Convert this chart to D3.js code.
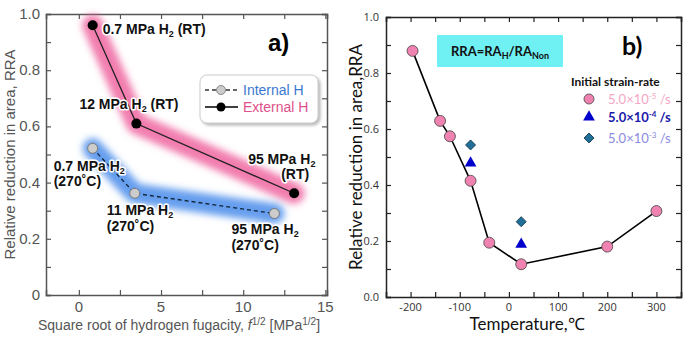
<!DOCTYPE html>
<html>
<head>
<meta charset="utf-8">
<script src="https://cdn.jsdelivr.net/npm/d3@7"></script>
<style>
  body { margin: 0; background: #fff; }
  svg { display: block; }
</style>
</head>
<body>
<script>
// panel a data: sqrt fugacity vs RRA
const extX = [0.84, 3.5, 13.1];
const extY = [0.96, 0.61, 0.362];
const intX = [0.84, 3.4, 11.9];
const intY = [0.522, 0.362, 0.29];
const extLabels = [["0.7 MPa H", "(RT)"], ["12 MPa H", "(RT)"], ["95 MPa H", "(RT)"]];
const intLabels = ["0.7 MPa H", "11 MPa H", "95 MPa H"];

// panel b data: temperature vs RRA
const tempSlow = [-196, -140, -120, -78, -40, 25, 200, 300];
const rraSlow = [0.879, 0.629, 0.574, 0.415, 0.194, 0.117, 0.18, 0.307];
const tempMid = [-78, 25];
const rraMid = [0.478, 0.188];
const tempFast = [-78, 25];
const rraFast = [0.543, 0.269];
const rateLabels = ["-5", "-4", "-3"];

const W = 693, H = 338;
const svg = d3.select("body").append("svg").attr("width", W).attr("height", H);

const defs = svg.append("defs");
defs.append("filter").attr("id", "blur").attr("x", "-20%").attr("y", "-40%").attr("width", "140%").attr("height", "180%")
  .append("feGaussianBlur").attr("stdDeviation", 3.5);
const sh = defs.append("filter").attr("id", "shadow").attr("x", "-10%").attr("y", "-10%").attr("width", "130%").attr("height", "140%");
sh.append("feDropShadow").attr("dx", 2).attr("dy", 2).attr("stdDeviation", 1.5).attr("flood-color", "#888").attr("flood-opacity", 0.6);

// ---------- panel a ----------
const fa = "'Liberation Sans', Arial, sans-serif";
const xa = d3.scaleLinear().domain([-2, 15.1]).range([46, 327]);
const ya = d3.scaleLinear().domain([0, 1]).range([295, 14]);
const ga = svg.append("g");

// axes with inward ticks, mirrored
const axA = (g, axis, tr) => g.append("g").attr("transform", tr).call(axis);
const styleAx = (sel, col) => {
  sel.selectAll(".domain").attr("stroke", col).attr("stroke-width", 1.5);
  sel.selectAll(".tick line").attr("stroke", col).attr("stroke-width", 1.2);
};
[[d3.axisBottom(xa).tickValues(d3.range(0, 15.1, 2.5)).tickSize(-5).tickFormat(""), "translate(0,295)"],
 [d3.axisTop(xa).tickValues(d3.range(0, 15.1, 2.5)).tickSize(-5).tickFormat(""), "translate(0,14)"],
 [d3.axisLeft(ya).tickValues(d3.range(0, 1.01, 0.1)).tickSize(-5).tickFormat(""), "translate(46,0)"],
 [d3.axisRight(ya).tickValues(d3.range(0, 1.01, 0.1)).tickSize(-5).tickFormat(""), "translate(327,0)"]]
  .forEach(([ax, tr]) => styleAx(axA(ga, ax, tr), "#555"));

ga.selectAll(".xl").data([0, 5, 10, 15]).join("text")
  .attr("x", d => xa(d)).attr("y", 312).attr("text-anchor", "middle")
  .attr("font-family", fa).attr("font-size", 15).attr("fill", "#555").text(d => d);
ga.selectAll(".yl").data([0, 0.2, 0.4, 0.6, 0.8, 1.0]).join("text")
  .attr("x", 40).attr("y", d => ya(d) + 5).attr("text-anchor", "end")
  .attr("font-family", fa).attr("font-size", 15).attr("fill", "#555").text(d => d === 0 ? "0" : d.toFixed(1));

ga.append("text").attr("transform", `translate(15,${ya(0.5)}) rotate(-90)`).attr("text-anchor", "middle")
  .attr("font-family", fa).attr("font-size", 15).attr("fill", "#555").text("Relative reduction in area, RRA");
const xt = ga.append("text").attr("x", 179).attr("y", 330).attr("text-anchor", "middle")
  .attr("font-family", fa).attr("font-size", 14).attr("fill", "#555");
xt.append("tspan").text("Square root of hydrogen fugacity, ");
xt.append("tspan").attr("font-style", "italic").text("f");
xt.append("tspan").attr("dy", -5).attr("font-size", 10).text("1/2");
xt.append("tspan").attr("dy", 5).text(" [MPa");
xt.append("tspan").attr("dy", -5).attr("font-size", 10).text("1/2");
xt.append("tspan").attr("dy", 5).text("]");

// glowing bands
const lineA = d3.line().x(d => xa(d[0])).y(d => ya(d[1]));
const extPts = extX.map((x, i) => [x, extY[i]]);
const intPts = intX.map((x, i) => [x, intY[i]]);
ga.append("path").attr("d", lineA(extPts)).attr("fill", "none").attr("stroke", "#ee5c9a").attr("stroke-opacity", 0.8)
  .attr("stroke-width", 21).attr("stroke-linecap", "round").attr("stroke-linejoin", "round").attr("filter", "url(#blur)");
ga.append("path").attr("d", lineA(intPts)).attr("fill", "none").attr("stroke", "#3f86ea").attr("stroke-opacity", 0.8)
  .attr("stroke-width", 20).attr("stroke-linecap", "round").attr("stroke-linejoin", "round").attr("filter", "url(#blur)");

ga.append("path").attr("d", lineA(extPts)).attr("fill", "none").attr("stroke", "#222").attr("stroke-width", 1.3);
ga.append("path").attr("d", lineA(intPts)).attr("fill", "none").attr("stroke", "#123").attr("stroke-width", 1.3).attr("stroke-dasharray", "4,3");
ga.selectAll(".ep").data(extPts).join("circle").attr("cx", d => xa(d[0])).attr("cy", d => ya(d[1])).attr("r", 5).attr("fill", "#000");
ga.selectAll(".ip").data(intPts).join("circle").attr("cx", d => xa(d[0])).attr("cy", d => ya(d[1])).attr("r", 5)
  .attr("fill", "#ccc").attr("stroke", "#777").attr("stroke-width", 1);

// point labels (white halo)
const lab = (x, y, main, anchor) => {
  const t = ga.append("text").attr("x", x).attr("y", y).attr("text-anchor", anchor || "start")
    .attr("font-family", fa).attr("font-size", 14).attr("font-weight", "bold").attr("fill", "#111")
    .attr("stroke", "#fff").attr("stroke-width", 3).attr("stroke-linejoin", "round").attr("paint-order", "stroke");
  t.append("tspan").text(main[0]);
  t.append("tspan").attr("dy", 3).attr("font-size", 9).text("2");
  if (main[1]) t.append("tspan").attr("dy", -3).text(" " + main[1]);
  return t;
};
const lab2 = (x, y, s) => ga.append("text").attr("x", x).attr("y", y).attr("text-anchor", "start")
  .attr("font-family", fa).attr("font-size", 14).attr("font-weight", "bold").attr("fill", "#111")
  .attr("stroke", "#fff").attr("stroke-width", 3).attr("stroke-linejoin", "round").attr("paint-order", "stroke").text(s);

lab(xa(extX[0]) + 10, ya(extY[0]) + 9, extLabels[0]);
lab(xa(extX[1]) - 57, ya(extY[1]) - 15, extLabels[1]);
lab(xa(extX[2]) - 46, ya(extY[2]) - 29, [extLabels[2][0]]);
lab2(xa(extX[2]) - 13, ya(extY[2]) - 14, extLabels[2][1]);
lab(xa(intX[0]) - 39, ya(intY[0]) + 23, [intLabels[0]]);
lab2(xa(intX[0]) - 39, ya(intY[0]) + 38, "(270˚C)");
lab(xa(intX[1]) - 28, ya(intY[1]) + 22, [intLabels[1]]);
lab2(xa(intX[1]) - 28, ya(intY[1]) + 38, "(270˚C)");
lab(xa(intX[2]) - 43, ya(intY[2]) + 20, [intLabels[2]]);
lab2(xa(intX[2]) - 43, ya(intY[2]) + 36, "(270˚C)");

ga.append("text").attr("x", 268).attr("y", 51).attr("font-family", fa).attr("font-size", 24).attr("font-weight", "bold").text("a)");

// legend a
const lg = ga.append("g");
lg.append("rect").attr("x", 200).attr("y", 75).attr("width", 118).attr("height", 48).attr("rx", 7)
  .attr("fill", "#fff").attr("stroke", "#ccc").attr("filter", "url(#shadow)");
lg.append("line").attr("x1", 205).attr("x2", 238).attr("y1", 90).attr("y2", 90).attr("stroke", "#333").attr("stroke-dasharray", "4,3").attr("stroke-width", 1.3);
lg.append("circle").attr("cx", 221).attr("cy", 90).attr("r", 4.5).attr("fill", "#ccc").attr("stroke", "#888");
lg.append("text").attr("x", 243).attr("y", 95).attr("font-family", fa).attr("font-size", 14).attr("fill", "#3a78d0").text("Internal H");
lg.append("line").attr("x1", 205).attr("x2", 238).attr("y1", 107).attr("y2", 107).attr("stroke", "#000").attr("stroke-width", 1.3);
lg.append("circle").attr("cx", 221).attr("cy", 107).attr("r", 4.5).attr("fill", "#000");
lg.append("text").attr("x", 243).attr("y", 112).attr("font-family", fa).attr("font-size", 14).attr("fill", "#e0508a").text("External H");

// ---------- panel b ----------
const fb = "Lato, 'Open Sans', sans-serif";
const xb = d3.scaleLinear().domain([-250, 350]).range([386, 681]);
const yb = d3.scaleLinear().domain([0, 1]).range([297, 17]);
const gb = svg.append("g");

[[d3.axisBottom(xb).tickValues(d3.range(-250, 351, 50)).tickSize(-5).tickFormat(""), "translate(0,297)"],
 [d3.axisTop(xb).tickValues(d3.range(-250, 351, 50)).tickSize(-5).tickFormat(""), "translate(0,17)"],
 [d3.axisLeft(yb).tickValues(d3.range(0, 1.01, 0.1)).tickSize(-5).tickFormat(""), "translate(386,0)"],
 [d3.axisRight(yb).tickValues(d3.range(0, 1.01, 0.1)).tickSize(-5).tickFormat(""), "translate(681,0)"]]
  .forEach(([ax, tr]) => styleAx(axA(gb, ax, tr), "#222"));

gb.selectAll(".xl").data([-200, -100, 0, 100, 200, 300]).join("text")
  .attr("x", d => xb(d)).attr("y", 311).attr("text-anchor", "middle")
  .attr("font-family", "'Open Sans', sans-serif").attr("font-size", 11).attr("fill", "#333").text(d => d);
gb.selectAll(".yl").data([0, 0.2, 0.4, 0.6, 0.8, 1.0]).join("text")
  .attr("x", 379).attr("y", d => yb(d) + 4).attr("text-anchor", "end")
  .attr("font-family", "'Open Sans', sans-serif").attr("font-size", 11).attr("fill", "#333").text(d => d.toFixed(1));

gb.append("text").attr("transform", `translate(362,${yb(0.5)}) rotate(-90)`).attr("text-anchor", "middle")
  .attr("font-family", fb).attr("font-size", 17).attr("fill", "#111").text("Relative reduction in area,RRA");
gb.append("text").attr("x", 527).attr("y", 330).attr("text-anchor", "middle")
  .attr("font-family", fb).attr("font-size", 17).attr("fill", "#111").text("Temperature,℃");

const lineB = d3.line().x(d => xb(d[0])).y(d => yb(d[1]));
const slowPts = tempSlow.map((t, i) => [t, rraSlow[i]]);
gb.append("path").attr("d", lineB(slowPts)).attr("fill", "none").attr("stroke", "#000").attr("stroke-width", 1.6);
gb.selectAll(".sp").data(slowPts).join("circle").attr("cx", d => xb(d[0])).attr("cy", d => yb(d[1])).attr("r", 5.5)
  .attr("fill", "#ef82b0").attr("stroke", "#444").attr("stroke-width", 0.8);
const tri = d3.symbol().type(d3.symbolTriangle).size(60);
const dia = d3.symbol().type(d3.symbolSquare).size(50);
gb.selectAll(".mp").data(tempMid.map((t, i) => [t, rraMid[i]])).join("path")
  .attr("transform", d => `translate(${xb(d[0])},${yb(d[1])})`).attr("d", tri).attr("fill", "#0000cc");
gb.selectAll(".fp").data(tempFast.map((t, i) => [t, rraFast[i]])).join("path")
  .attr("transform", d => `translate(${xb(d[0])},${yb(d[1])}) rotate(45)`).attr("d", dia).attr("fill", "#1f6f99").attr("stroke", "#134").attr("stroke-width", 0.8);

// RRA box
gb.append("rect").attr("x", 437).attr("y", 35).attr("width", 126).attr("height", 32).attr("fill", "#6ff0f2");
const rt = gb.append("text").attr("x", 500).attr("y", 56).attr("text-anchor", "middle")
  .attr("font-family", fb).attr("font-size", 13).attr("font-weight", "bold").attr("fill", "#111");
rt.append("tspan").text("RRA=RA");
rt.append("tspan").attr("dy", 3).attr("font-size", 9).text("H");
rt.append("tspan").attr("dy", -3).text("/RA");
rt.append("tspan").attr("dy", 3).attr("font-size", 9).text("Non");

gb.append("text").attr("x", 622).attr("y", 55).attr("font-family", fb).attr("font-size", 25).attr("font-weight", "bold").text("b)");

// legend b
gb.append("text").attr("x", 571).attr("y", 86).attr("font-family", fb).attr("font-size", 12).attr("font-weight", "bold").attr("fill", "#111").text("Initial strain-rate");
const rowY = [99, 117, 138];
const rowCol = ["#f3a6c6", "#1a1aa8", "#8a8ae0"];
const rowW = ["normal", "bold", "normal"];
gb.append("circle").attr("cx", 589).attr("cy", rowY[0]).attr("r", 5).attr("fill", "#ef82b0").attr("stroke", "#444").attr("stroke-width", 0.8);
gb.append("path").attr("transform", `translate(589,${rowY[1]})`).attr("d", tri).attr("fill", "#0000cc");
gb.append("path").attr("transform", `translate(589,${rowY[2]}) rotate(45)`).attr("d", dia).attr("fill", "#1f6f99").attr("stroke", "#134").attr("stroke-width", 0.8);
rateLabels.forEach((e, i) => {
  const t = gb.append("text").attr("x", 608).attr("y", rowY[i] + 5).attr("font-family", fb).attr("font-size", 13)
    .attr("font-weight", rowW[i]).attr("fill", rowCol[i]);
  t.append("tspan").text("5.0×10");
  t.append("tspan").attr("dy", -5).attr("font-size", 8).text(e);
  t.append("tspan").attr("dy", 5).text(" /s");
});
</script>
</body>
</html>
